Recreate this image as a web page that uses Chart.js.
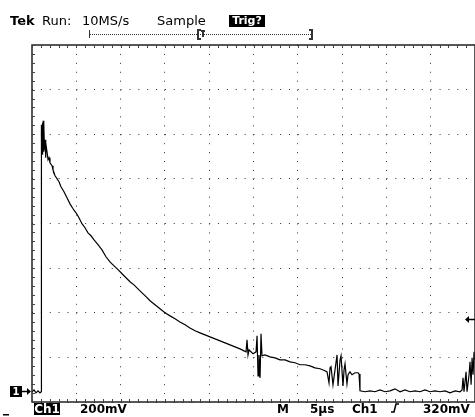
<!DOCTYPE html>
<html>
<head>
<meta charset="utf-8">
<script src="https://cdn.jsdelivr.net/npm/chart.js@4.4.1/dist/chart.umd.min.js"></script>
<style>
html, body { margin: 0; padding: 0; background: #fff; overflow: hidden; }
canvas { display: block; }
</style>
</head>
<body>
<canvas id="scope" width="475" height="417"></canvas>
<script>
// Ch1 trace: time in µs from left edge, level in mV above ground
const timeUs = [
  0, 0.23, 0.45, 0.68, 0.90, 1.02, 1.05, 1.08, 1.13, 1.17, 1.22, 1.26, 1.31, 1.35, 1.41, 1.47,
  1.52, 1.58, 1.69, 1.81, 1.92, 2.03, 2.26, 2.37, 2.60, 2.82, 3.05, 3.27, 3.61, 3.95, 4.29,
  4.63, 4.97, 5.30, 5.64, 5.98, 6.32, 6.66, 7.00, 7.45, 7.90, 8.35, 8.80, 9.26, 9.71, 10.16,
  10.61, 11.06, 11.51, 11.96, 12.42, 12.87, 13.32, 13.88, 14.45, 15.01, 15.58, 16.14, 16.70,
  17.27, 17.83, 18.40, 18.96, 19.53, 20.09, 20.66, 21.22, 21.79, 22.35, 22.91, 23.48, 23.93,
  24.16, 24.27, 24.38, 24.50, 24.72, 24.95, 25.29, 25.40, 25.51, 25.62, 25.74, 25.85, 25.96,
  26.30, 26.86, 27.43, 27.99, 28.56, 29.12, 29.68, 30.25, 30.81, 31.38, 31.94, 32.51, 33.07,
  33.30, 33.52, 33.64, 33.75, 33.97, 34.20, 34.43, 34.54, 34.77, 34.88, 35.10, 35.22, 35.33,
  35.55, 35.67, 35.89, 36.12, 36.46, 36.80, 36.91, 37.02, 37.59, 38.15, 38.71, 39.28, 39.84,
  40.41, 40.97, 41.54, 42.10, 42.66, 43.23, 43.79, 44.36, 44.92, 45.49, 46.05, 46.62, 47.18,
  47.75, 48.31, 48.54, 48.65, 48.76, 48.99, 49.10, 49.33, 49.44, 49.56, 49.67, 49.78, 49.89, 50.0
];
const ch1mV = [
  -4, 4, -9, 0, -9, -4, 1170, 1193, 1081, 1202, 1058, 1211, 1072, 1197, 1081, 1125,
  1045, 1112, 1072, 1036, 1045, 1022, 1009, 991, 964, 951, 937, 915, 892, 865, 838,
  816, 798, 776, 749, 731, 708, 695, 677, 655, 632, 601, 578, 560, 543, 525,
  507, 489, 475, 457, 439, 422, 404, 386, 368, 350, 336, 323, 309,
  296, 282, 269, 260, 251, 242, 233, 224, 215, 206, 197, 188, 179,
  175, 229, 161, 184, 175, 166, 175, 247, 67, 161, 58, 256, 157,
  161, 152, 148, 139, 139, 130, 126, 117, 117, 112, 103, 99, 90,
  85, 36, 103, 108, 27, 94, 161, 22, 139, 157, 22, 94, 121,
  31, 72, 85, 72, 81, 81, 76, 0, -4, 0, -4, 4, -4,
  0, 9, -4, 4, -4, 0, -4, 4, -4, 0, -4, 0, -9,
  0, -4, 4, 58, -4, 85, -4, 72, 130, 27, 148, 72, 175, 139
];

// graticule: 10 x 5 µs horizontally, 8 x 200 mV vertically (ground 1/4 div above bottom)
const xTicks = [0, 5, 10, 15, 20, 25, 30, 35, 40, 45, 50];
const yTicks = [-50, 150, 350, 550, 750, 950, 1150, 1350, 1550];
const trigLevelMv = 320;

const FONT = '"DejaVu Sans", sans-serif';

function invLabel(ctx, text, x, yTop, w, h, font) {
  ctx.fillStyle = '#000';
  ctx.fillRect(x, yTop, w, h);
  ctx.fillStyle = '#fff';
  ctx.font = font;
  ctx.textBaseline = 'middle';
  ctx.textAlign = 'center';
  ctx.fillText(text, x + w / 2, yTop + h / 2 + 0.5);
}

const scopeDecor = {
  id: 'scopeDecor',
  afterDraw(chart) {
    const ctx = chart.ctx;
    const a = chart.chartArea;
    const xs = chart.scales.x, ys = chart.scales.y;
    ctx.save();

    // frame
    ctx.strokeStyle = '#222';
    ctx.lineWidth = 1.5;
    ctx.strokeRect(a.left, a.top, a.right - a.left, a.bottom - a.top);

    // minor ticks on the frame, five per division
    ctx.lineWidth = 1;
    ctx.strokeStyle = '#444';
    ctx.beginPath();
    for (let t = xTicks[0]; t <= xTicks[xTicks.length - 1]; t += 1) {
      const px = Math.round(xs.getPixelForValue(t)) + 0.5;
      ctx.moveTo(px, a.top); ctx.lineTo(px, a.top + 3);
      ctx.moveTo(px, a.bottom); ctx.lineTo(px, a.bottom - 3);
    }
    for (let v = yTicks[0]; v <= yTicks[yTicks.length - 1]; v += 40) {
      const py = Math.round(ys.getPixelForValue(v)) + 0.5;
      ctx.moveTo(a.left, py); ctx.lineTo(a.left + 3, py);
    }
    ctx.stroke();

    // header line
    ctx.fillStyle = '#000';
    ctx.textBaseline = 'alphabetic';
    ctx.textAlign = 'left';
    ctx.font = 'bold 13px ' + FONT;
    ctx.fillText('Tek', 10, 25);
    ctx.font = '13px ' + FONT;
    ctx.fillText('Run:', 42, 25);
    ctx.fillText('10MS/s', 82, 25);
    ctx.fillText('Sample', 157, 25);
    invLabel(ctx, 'Trig?', 229, 15, 36, 12, 'bold 11px ' + FONT);

    // record length bar
    ctx.strokeStyle = '#333';
    ctx.lineWidth = 1;
    ctx.setLineDash([1, 1]);
    ctx.beginPath();
    ctx.moveTo(90, 34.5); ctx.lineTo(311, 34.5);
    ctx.stroke();
    ctx.setLineDash([]);
    ctx.beginPath();
    ctx.moveTo(89.5, 30); ctx.lineTo(89.5, 38);
    ctx.stroke();
    ctx.lineWidth = 2;
    ctx.beginPath();
    ctx.moveTo(201, 30); ctx.lineTo(198, 30); ctx.lineTo(198, 39); ctx.lineTo(201, 39);
    ctx.moveTo(201, 31); ctx.lineTo(205, 31); ctx.moveTo(203, 31); ctx.lineTo(203, 37);
    ctx.moveTo(309, 30); ctx.lineTo(312, 30); ctx.lineTo(312, 39); ctx.lineTo(309, 39);
    ctx.stroke();

    // ground marker
    const gy = Math.round(ys.getPixelForValue(0));
    invLabel(ctx, '1', 10, gy - 5, 12, 11, 'bold 10px ' + FONT);
    ctx.strokeStyle = '#000';
    ctx.fillStyle = '#000';
    ctx.lineWidth = 1.5;
    ctx.beginPath();
    ctx.moveTo(22, gy + 0.5); ctx.lineTo(28, gy + 0.5);
    ctx.stroke();
    ctx.beginPath();
    ctx.moveTo(31, gy + 0.5); ctx.lineTo(27, gy - 3); ctx.lineTo(27, gy + 4);
    ctx.closePath(); ctx.fill();

    // trigger level marker
    const ty = Math.round(ys.getPixelForValue(trigLevelMv));
    ctx.beginPath();
    ctx.moveTo(469, ty + 0.5); ctx.lineTo(475, ty + 0.5);
    ctx.stroke();
    ctx.beginPath();
    ctx.moveTo(465, ty + 0.5); ctx.lineTo(469, ty - 3); ctx.lineTo(469, ty + 4);
    ctx.closePath(); ctx.fill();

    // footer line
    invLabel(ctx, 'Ch1', 34, 403, 26, 12, 'bold 12px ' + FONT);
    ctx.fillStyle = '#000';
    ctx.textBaseline = 'alphabetic';
    ctx.textAlign = 'left';
    ctx.font = 'bold 12px ' + FONT;
    ctx.fillText('200mV', 80, 413);
    ctx.fillText('M', 277, 413);
    ctx.fillText('5\u00b5s', 310, 413);
    ctx.fillText('Ch1', 352, 413);
    ctx.fillText('320mV', 423, 413);
    // rising-edge trigger slope glyph
    ctx.strokeStyle = '#000';
    ctx.lineWidth = 1.5;
    ctx.beginPath();
    ctx.moveTo(391, 412); ctx.lineTo(394, 412); ctx.lineTo(396, 404); ctx.lineTo(399, 404);
    ctx.stroke();
    // small mark at lower left
    ctx.fillRect(3, 414, 6, 1.5);

    ctx.restore();
  }
};

const ctx = document.getElementById('scope').getContext('2d');

const chart = new Chart(ctx, {
  type: 'line',
  data: {
    datasets: [{
      label: 'Ch1',
      data: timeUs.map((t, i) => ({ x: t, y: ch1mV[i] })),
      borderColor: '#000',
      borderWidth: 1.2,
      pointRadius: 0,
      tension: 0,
      fill: false
    }]
  },
  options: {
    responsive: false,
    animation: false,
    events: [],
    layout: { padding: { left: 32, top: 45, right: 0, bottom: 15 } },
    plugins: {
      legend: { display: false },
      tooltip: { enabled: false },
      title: { display: false }
    },
    scales: {
      x: {
        type: 'linear',
        min: xTicks[0],
        max: xTicks[xTicks.length - 1],
        afterBuildTicks: s => { s.ticks = xTicks.map(v => ({ value: v })); },
        ticks: { display: false },
        // in v4 the grid line dash lives under border
        border: { display: false, dash: [1, 7.925] },
        grid: { color: '#333', lineWidth: 1, drawTicks: false }
      },
      y: {
        type: 'linear',
        min: yTicks[0],
        max: yTicks[yTicks.length - 1],
        afterBuildTicks: s => { s.ticks = yTicks.map(v => ({ value: v })); },
        ticks: { display: false },
        border: { display: false, dash: [1, 7.86] },
        grid: { color: '#333', lineWidth: 1, drawTicks: false }
      }
    }
  },
  plugins: [scopeDecor]
});
</script>
</body>
</html>
